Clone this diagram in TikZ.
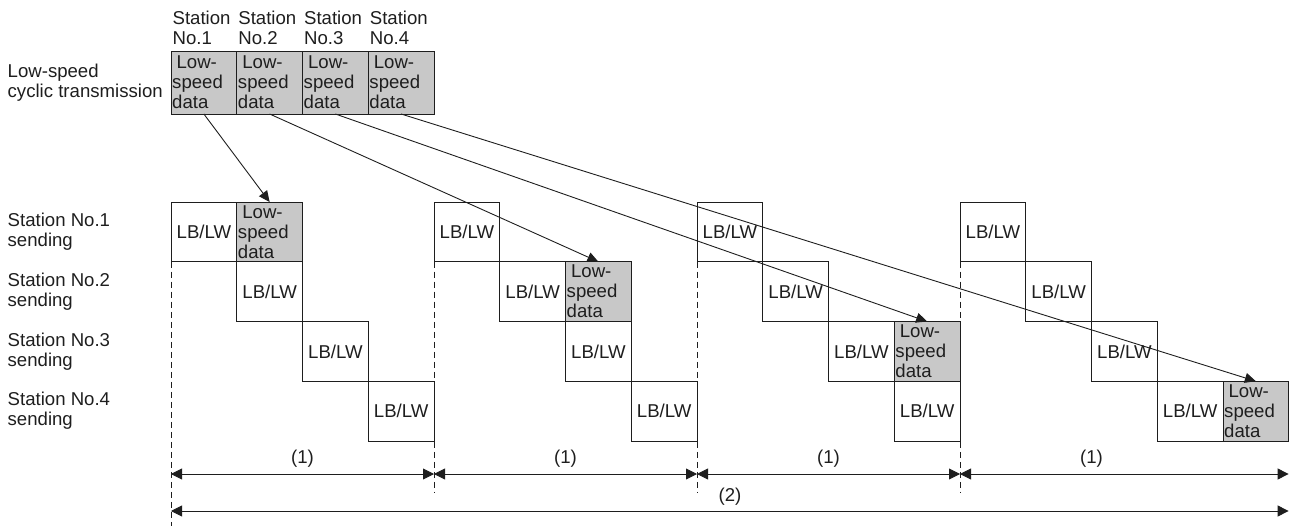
\documentclass[tikz,border=0pt]{standalone}
\usepackage{fontspec}
\setmainfont{Liberation Sans}
\usetikzlibrary{arrows.meta}
\definecolor{lsgray}{RGB}{200,200,200}
\definecolor{ink}{RGB}{30,30,30}
\begin{document}
\begin{tikzpicture}[x=1pt,y=-1pt,
  font=\fontsize{18.6}{20}\selectfont,
  every node/.style={text=ink},
  box/.style={draw=ink, line width=0.9pt, minimum width=65.75pt, minimum height=59.75pt, inner sep=0pt, outer sep=0pt, anchor=north west},
  lbbox/.style={box},
  datbox/.style={box, fill=lsgray, align=left, inner xsep=1.2pt, text width=63.35pt},
  topbox/.style={datbox, minimum height=63pt},
  lbl/.style={inner sep=0pt, align=left},
  guide/.style={draw=ink, line width=0.7pt, dash pattern=on 6pt off 4pt},
  arr/.style={draw=ink, line width=0.9pt, -{Triangle[length=11pt,width=10pt]}},
  dim/.style={draw=ink, line width=0.9pt, {Triangle[length=11pt,width=11pt]}-{Triangle[length=11pt,width=11pt]}}
]
\useasboundingbox (0,0) rectangle (1289,526);

% guide lines
\foreach \k in {0,1,2,3} {
  \coordinate (g\k a) at ({171+263*\k},{261.75});
  \coordinate (g\k b) at ({171+263*\k},{\k==0 ? 530 : 493});
  \draw[guide] (g\k a) -- (g\k b);
}

% top boxes
\foreach \i in {1,2,3,4} {
  \node[topbox] (t\i) at ({171+65.75*(\i-1)},51) {\hspace*{4.4pt}Low-\\speed\\data};
  \node[lbl, anchor=south west] (h\i) at ([xshift=1.4pt,yshift=6pt]t\i.north west) {Station\\No.\i};
}
\node[lbl, anchor=west] (lcyc) at (7.5,82.5) {Low-speed\\cyclic transmission};

% station labels
\foreach \j in {0,1,2,3} {
  \pgfmathtruncatemacro{\n}{\j+1}
  \node[lbl, anchor=west] (s\n) at (7.5,{202+59.75*\j+29.9}) {Station No.\n\\sending};
}

% cycles
\foreach \k in {0,1,2,3} {
  \foreach \j in {0,1,2,3} {
    \node[lbbox] (c\k r\j) at ({171+263*\k+65.75*\j},{202+59.75*\j}) {LB/LW};
  }
  \node[datbox] (d\k) at ({171+263*\k+65.75*(\k+1)},{202+59.75*\k}) {\hspace*{4.4pt}Low-\\speed\\data};
}

% transfer arrows
\draw[arr] (t1.south) -- (d0.north);
\draw[arr] (t2.south) -- (d1.north);
\draw[arr] (t3.south) -- (d2.north);
\draw[arr] (t4.south) -- (d3.north);

% dimension arrows
\coordinate (m0) at (171,474);
\coordinate (m1) at (434,474);
\coordinate (m2) at (697,474);
\coordinate (m3) at (960,474);
\coordinate (m4) at (1288.6,474);
\draw[dim] (m0) -- (m1);
\draw[dim] (m1) -- (m2);
\draw[dim] (m2) -- (m3);
\draw[dim] (m3) -- (m4);
\foreach \k in {0,1,2,3} {
  \node[inner sep=0pt] (p\k) at ({171+263*\k+131.5},458.5) {(1)};
}
\coordinate (n0) at (171,511);
\coordinate (n1) at (1288.6,511);
\draw[dim] (n0) -- (n1);
\node[inner sep=0pt] (q) at (730,496.5) {(2)};
\end{tikzpicture}
\end{document}
